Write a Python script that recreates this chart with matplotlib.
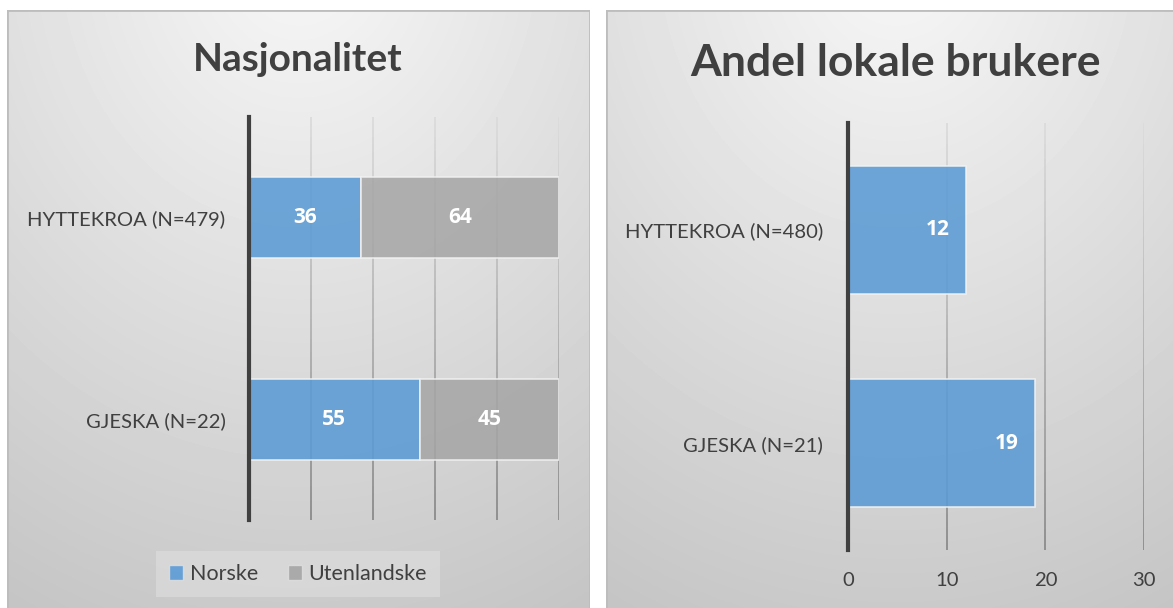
import numpy as np
import matplotlib.pyplot as plt
from matplotlib.collections import LineCollection
from matplotlib.patches import Rectangle, Patch

plt.rcParams['font.family'] = ['Lato', 'DejaVu Sans']

# Nationality split (percent)
nat_categories = ['GJESKA (N=22)', 'HYTTEKROA (N=479)']
nat_norske = [55, 36]
nat_utenlandske = [45, 64]
nat_ticks = [0, 20, 40, 60, 80, 100]

# Share of local users (percent)
local_categories = ['GJESKA (N=21)', 'HYTTEKROA (N=480)']
local_share = [19, 12]
local_ticks = [0, 10, 20, 30]

BLUE = '#5b9bd5'
GREY = '#a5a5a5'
TEXT = '#404040'

W, H = 1173, 608
fig = plt.figure(figsize=(W / 100, H / 100), dpi=100)
fig.patch.set_facecolor('white')


def px_rect(x0, y0, x1, y1):
    return [x0 / W, 1 - y1 / H, (x1 - x0) / W, (y1 - y0) / H]


def panel(x0, y0, x1, y1):
    bg = fig.add_axes(px_rect(x0, y0, x1, y1), zorder=0)
    w, h = int(x1 - x0), int(y1 - y0)
    yy, xx = np.mgrid[0:h, 0:w]
    cx, cy = w / 2, -0.1 * h
    r = np.sqrt(((xx - cx) / (w * 0.95)) ** 2 + ((yy - cy) / (h * 1.05)) ** 2)
    v = np.clip(0.97 - 0.175 * r, 0, 1)
    bg.imshow(v, cmap='gray', vmin=0, vmax=1, extent=(0, 1, 0, 1),
              aspect='auto', interpolation='bilinear', origin='upper')
    bg.add_patch(Rectangle((0, 0), 1, 1, transform=bg.transAxes, fill=False,
                           edgecolor='#bdbdbd', linewidth=2))
    bg.set_xlim(0, 1)
    bg.set_ylim(0, 1)
    bg.set_axis_off()


def gradient_grid(ax, ticks, top='#dcdcdc', bottom='#8a8a8a', n=60):
    trans = ax.get_xaxis_transform()
    c_top = np.array(plt.matplotlib.colors.to_rgb(top))
    c_bot = np.array(plt.matplotlib.colors.to_rgb(bottom))
    ys = np.linspace(0, 1, n + 1)
    for t in ticks[1:]:
        segs = [[(t, ys[i]), (t, ys[i + 1])] for i in range(n)]
        cols = [c_bot + (c_top - c_bot) * (ys[i] + ys[i + 1]) / 2 for i in range(n)]
        lc = LineCollection(segs, colors=cols, linewidths=1.3, transform=trans,
                            zorder=1, capstyle='butt')
        ax.add_collection(lc)


def style_axes(ax, ticks):
    ax.set_facecolor('none')
    for s in ['top', 'right', 'bottom']:
        ax.spines[s].set_visible(False)
    ax.spines['left'].set_color(TEXT)
    ax.spines['left'].set_linewidth(3)
    ax.spines['left'].set_zorder(5)
    ax.set_xlim(ticks[0], ticks[-1])
    ax.set_ylim(-0.5, 1.5)
    ax.set_xticks(ticks)
    gradient_grid(ax, ticks)


panel(7, 10, 590, 625)
panel(606, 10, 1185, 625)

VALUE_FONT = dict(family=['Open Sans', 'DejaVu Sans'], fontsize=15,
                  fontweight='bold', color='white')

# Left chart: nationality
ax1 = fig.add_axes(px_rect(249, 117, 559, 520), zorder=2)
style_axes(ax1, nat_ticks)
y = np.arange(len(nat_categories))
b1 = ax1.barh(y, nat_norske, height=0.4, color=BLUE, alpha=0.88,
              edgecolor='#f2f2f2', linewidth=1.2, label='Norske', zorder=3)
b2 = ax1.barh(y, nat_utenlandske, left=nat_norske, height=0.4, color=GREY,
              alpha=0.85, edgecolor='#f2f2f2', linewidth=1.2,
              label='Utenlandske', zorder=3)
for bars in (b1, b2):
    ax1.bar_label(bars, labels=[f'{v:g}' for v in bars.datavalues],
                  label_type='center', zorder=6, **VALUE_FONT)
ax1.set_yticks(y, nat_categories)
ax1.tick_params(axis='y', length=0, pad=17, labelsize=14.6, labelcolor=TEXT)
ax1.tick_params(axis='x', length=0, labelbottom=False)

# Right chart: local users
ax2 = fig.add_axes(px_rect(848, 123, 1144, 550), zorder=2)
style_axes(ax2, local_ticks)
y2 = np.arange(len(local_categories))
b3 = ax2.barh(y2, local_share, height=0.6, color=BLUE, alpha=0.88,
              edgecolor='#f2f2f2', linewidth=1.2, zorder=3)
for yi, v in zip(y2, local_share):
    ax2.annotate(f'{v:g}', (v, yi), xytext=(-21, 0), textcoords='offset points',
                 ha='center', va='center', zorder=6, **VALUE_FONT)
ax2.set_yticks(y2, local_categories)
ax2.tick_params(axis='y', length=0, pad=18, labelsize=14.6, labelcolor=TEXT)
ax2.tick_params(axis='x', length=0, pad=16, labelsize=14.6, labelcolor=TEXT)

# Titles
fig.text(298 / W, 1 - 71 / H, 'Nasjonalitet', ha='center', va='baseline',
         fontsize=28, fontweight='bold', color=TEXT)
fig.text(896 / W, 1 - 76 / H, 'Andel lokale brukere', ha='center',
         va='baseline', fontsize=32, fontweight='bold', color=TEXT)

# Legend for the stacked chart
handles = [Patch(facecolor=BLUE, edgecolor='#dddddd', alpha=0.9, label='Norske'),
           Patch(facecolor=GREY, edgecolor='#dddddd', alpha=0.9, label='Utenlandske')]
leg = fig.legend(handles=handles, loc='center',
                 bbox_to_anchor=(298 / W, 1 - 574 / H), ncol=2, fontsize=15.5,
                 frameon=True, fancybox=False, handlelength=0.65,
                 handleheight=0.65, handletextpad=0.3, columnspacing=1.4,
                 borderpad=0.6, borderaxespad=0, labelcolor=TEXT)
leg.get_frame().set_facecolor('#dadada')
leg.get_frame().set_edgecolor('none')
leg.set_zorder(4)

fig.savefig('out.png', dpi=100, facecolor='white')
